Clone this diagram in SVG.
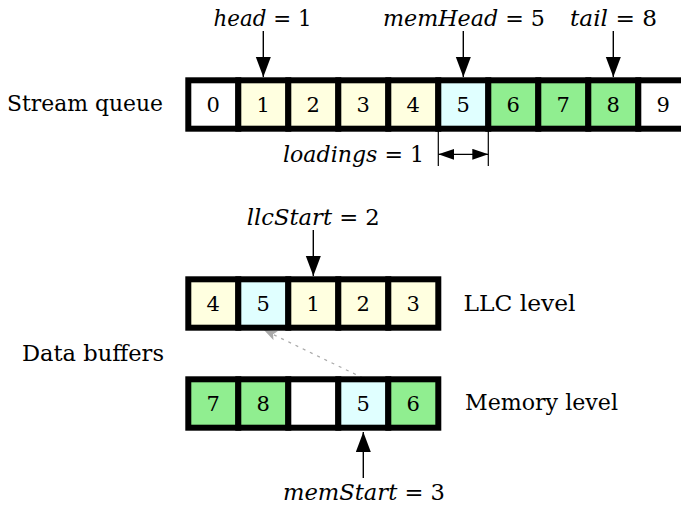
<svg xmlns="http://www.w3.org/2000/svg" width="681" height="505" viewBox="0 0 681 505">
<defs>
<style>
.cell{stroke:#000;stroke-width:6}
.w{fill:#fff}.y{fill:#ffffe0}.c{fill:#e0ffff}.g{fill:#90ee90}
.num{font-family:"DejaVu Serif",serif;font-size:21px;text-anchor:middle;fill:#000}
.lbl{font-family:"DejaVu Serif",serif;font-size:22px;fill:#000}
.math{font-family:"DejaVu Serif",serif;font-size:22px;text-anchor:middle;fill:#000}
.math tspan.v{font-style:italic}
.arr{stroke:#000;stroke-width:1.4;fill:none}
.dim{stroke:#000;stroke-width:1.2;fill:none}
.dash{stroke:#aaa;stroke-width:1.3;stroke-dasharray:3 5;fill:none}
</style>
<marker id="ah" markerUnits="userSpaceOnUse" markerWidth="22" markerHeight="16" refX="20" refY="7.5" orient="auto"><path d="M0,0 L20,7.5 L0,15 Z" fill="#000"/></marker>
<marker id="dh" markerUnits="userSpaceOnUse" markerWidth="18" markerHeight="12" refX="16" refY="5.5" orient="auto-start-reverse"><path d="M0,0 L16,5.5 L0,11 Z" fill="#000"/></marker>
<marker id="gh" markerUnits="userSpaceOnUse" markerWidth="14" markerHeight="12" refX="13" refY="5" orient="auto"><path d="M0,0 L13,5 L0,10 L3,5 Z" fill="#aaa"/></marker>
</defs>
<rect width="681" height="505" fill="#fff"/>

<g id="connectors">
<line class="arr" x1="263.3" y1="31" x2="263.3" y2="77" marker-end="url(#ah)"/>
<line class="arr" x1="463.3" y1="31" x2="463.3" y2="77" marker-end="url(#ah)"/>
<line class="arr" x1="613.3" y1="31" x2="613.3" y2="77" marker-end="url(#ah)"/>
<line class="arr" x1="313.3" y1="230" x2="313.3" y2="276" marker-end="url(#ah)"/>
<line class="arr" x1="363.3" y1="478" x2="363.3" y2="432" marker-end="url(#ah)"/>
<line class="dim" x1="438.3" y1="131" x2="438.3" y2="166"/>
<line class="dim" x1="488.3" y1="131" x2="488.3" y2="166"/>
<line class="dim" x1="438.3" y1="154.3" x2="488.3" y2="154.3" marker-start="url(#dh)" marker-end="url(#dh)"/>
<line class="dash" x1="363" y1="378" x2="264" y2="330" marker-end="url(#gh)"/>
</g>

<g id="stream-queue">
<g id="q0"><rect class="cell w" x="188.3" y="80.3" width="50" height="48.4"/><text class="num" x="213.3" y="112.3">0</text></g>
<g id="q1"><rect class="cell y" x="238.3" y="80.3" width="50" height="48.4"/><text class="num" x="263.3" y="112.3">1</text></g>
<g id="q2"><rect class="cell y" x="288.3" y="80.3" width="50" height="48.4"/><text class="num" x="313.3" y="112.3">2</text></g>
<g id="q3"><rect class="cell y" x="338.3" y="80.3" width="50" height="48.4"/><text class="num" x="363.3" y="112.3">3</text></g>
<g id="q4"><rect class="cell y" x="388.3" y="80.3" width="50" height="48.4"/><text class="num" x="413.3" y="112.3">4</text></g>
<g id="q5"><rect class="cell c" x="438.3" y="80.3" width="50" height="48.4"/><text class="num" x="463.3" y="112.3">5</text></g>
<g id="q6"><rect class="cell g" x="488.3" y="80.3" width="50" height="48.4"/><text class="num" x="513.3" y="112.3">6</text></g>
<g id="q7"><rect class="cell g" x="538.3" y="80.3" width="50" height="48.4"/><text class="num" x="563.3" y="112.3">7</text></g>
<g id="q8"><rect class="cell g" x="588.3" y="80.3" width="50" height="48.4"/><text class="num" x="613.3" y="112.3">8</text></g>
<g id="q9"><rect class="cell w" x="638.3" y="80.3" width="50" height="48.4"/><text class="num" x="663.3" y="112.3">9</text></g>
</g>

<g id="llc-buffer">
<g id="l0"><rect class="cell y" x="188.3" y="279.3" width="50" height="48.4"/><text class="num" x="213.3" y="311.3">4</text></g>
<g id="l1"><rect class="cell c" x="238.3" y="279.3" width="50" height="48.4"/><text class="num" x="263.3" y="311.3">5</text></g>
<g id="l2"><rect class="cell y" x="288.3" y="279.3" width="50" height="48.4"/><text class="num" x="313.3" y="311.3">1</text></g>
<g id="l3"><rect class="cell y" x="338.3" y="279.3" width="50" height="48.4"/><text class="num" x="363.3" y="311.3">2</text></g>
<g id="l4"><rect class="cell y" x="388.3" y="279.3" width="50" height="48.4"/><text class="num" x="413.3" y="311.3">3</text></g>
</g>

<g id="mem-buffer">
<g id="m0"><rect class="cell g" x="188.3" y="379.3" width="50" height="48.4"/><text class="num" x="213.3" y="411.3">7</text></g>
<g id="m1"><rect class="cell g" x="238.3" y="379.3" width="50" height="48.4"/><text class="num" x="263.3" y="411.3">8</text></g>
<g id="m2"><rect class="cell w" x="288.3" y="379.3" width="50" height="48.4"/></g>
<g id="m3"><rect class="cell c" x="338.3" y="379.3" width="50" height="48.4"/><text class="num" x="363.3" y="411.3">5</text></g>
<g id="m4"><rect class="cell g" x="388.3" y="379.3" width="50" height="48.4"/><text class="num" x="413.3" y="411.3">6</text></g>
</g>

<g id="labels">
<text id="lbl-stream" class="lbl" x="7" y="110.5" textLength="156" lengthAdjust="spacingAndGlyphs">Stream queue</text>
<text id="lbl-llc" class="lbl" x="463.5" y="311" textLength="112" lengthAdjust="spacingAndGlyphs">LLC level</text>
<text id="lbl-data" class="lbl" x="22" y="361" textLength="142" lengthAdjust="spacingAndGlyphs">Data buffers</text>
<text id="lbl-mem" class="lbl" x="465" y="410" textLength="153" lengthAdjust="spacingAndGlyphs">Memory level</text>
<text id="lbl-head" class="math" x="262.5" y="26" textLength="98" lengthAdjust="spacingAndGlyphs"><tspan class="v">head</tspan> = 1</text>
<text id="lbl-memhead" class="math" x="464" y="26" textLength="162" lengthAdjust="spacingAndGlyphs"><tspan class="v">memHead</tspan> = 5</text>
<text id="lbl-tail" class="math" x="613.5" y="26" textLength="87" lengthAdjust="spacingAndGlyphs"><tspan class="v">tail</tspan> = 8</text>
<text id="lbl-loadings" class="math" x="353.5" y="161.5" textLength="141" lengthAdjust="spacingAndGlyphs"><tspan class="v">loadings</tspan> = 1</text>
<text id="lbl-llcstart" class="math" x="313.3" y="224.5" textLength="133" lengthAdjust="spacingAndGlyphs"><tspan class="v">llcStart</tspan> = 2</text>
<text id="lbl-memstart" class="math" x="364" y="499.5" textLength="162" lengthAdjust="spacingAndGlyphs"><tspan class="v">memStart</tspan> = 3</text>
</g>
</svg>
